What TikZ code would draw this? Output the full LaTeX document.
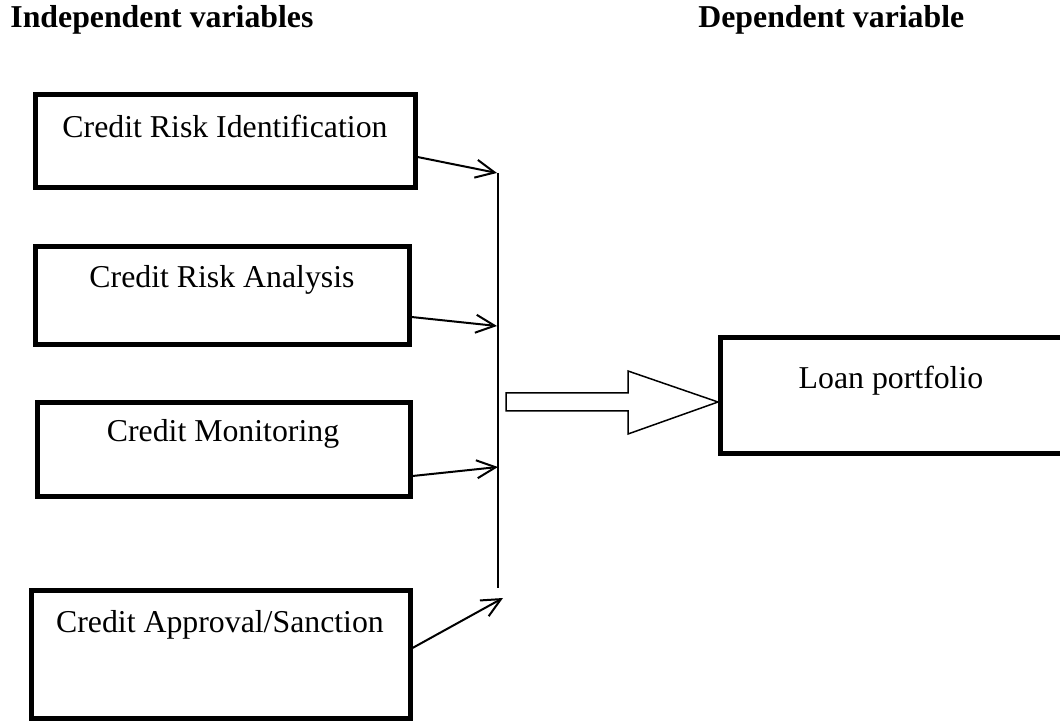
\documentclass[tikz,border=0pt]{standalone}
\usepackage{fontspec}
\setmainfont{Liberation Serif}
\usetikzlibrary{arrows.meta}
\tikzset{
  box/.style={draw=black, line width=2.5pt, rectangle, inner sep=0pt},
  lbl/.style={anchor=base, inner sep=0pt, font=\fontsize{15.9}{19}\selectfont},
  head/.style={anchor=base west, inner sep=0pt, font=\fontsize{15.9}{19}\selectfont\bfseries},
  conn/.style={line width=1pt, -{Straight Barb[length=9.5pt,width=9pt,line width=1pt]}},
  bus/.style={line width=0.7pt},
  bigarrow/.style={line width=0.75pt, fill=white, line join=miter}
}
\begin{document}
\begin{tikzpicture}[x=0.5pt,y=-0.5pt]
\useasboundingbox (0,0) rectangle (1060,721);

\node[head] (hind) at (10,28) {Independent variables};
\node[head] (hdep) at (698,28) {Dependent variable};

\node[box, minimum width=190pt, minimum height=46.5pt] (b1) at (225,141.5) {};
\node[box, minimum width=187pt, minimum height=49pt] (b2) at (222,296) {};
\node[box, minimum width=186.5pt, minimum height=46.5pt] (b3) at (223.5,449.5) {};
\node[box, minimum width=189.5pt, minimum height=64pt] (b4) at (220.5,654) {};
\node[box, minimum width=171pt, minimum height=58pt] (loan) at (891,396) {};

\node[lbl] (t1) at (225,138) {Credit Risk Identification};
\node[lbl] (t2) at (222,288) {Credit Risk Analysis};
\node[lbl] (t3) at (223,442) {Credit Monitoring};
\node[lbl] (t4) at (220,632) {Credit Approval/Sanction};
\node[lbl] (tl) at (891,389) {Loan portfolio};

\coordinate (bustop) at (498,173);
\coordinate (busbot) at (498,588);
\coordinate (e1) at (497,173);
\coordinate (e2) at (497,326);
\coordinate (e3) at (498,467);
\coordinate (e4) at (503,598);

\draw[bus] (bustop) -- (busbot);

\draw[conn] ([yshift=-7.75pt]b1.east) -- (e1);
\draw[conn] ([yshift=-10.5pt]b2.east) -- (e2);
\draw[conn] ([yshift=-13.25pt]b3.east) -- (e3);
\draw[conn] ([yshift=3pt]b4.east) -- (e4);

\draw[bigarrow] (506,393) -- (628,393) -- (628,371) -- (718,402) -- (628,434) -- (628,411) -- (506,411) -- cycle;
\end{tikzpicture}
\end{document}
